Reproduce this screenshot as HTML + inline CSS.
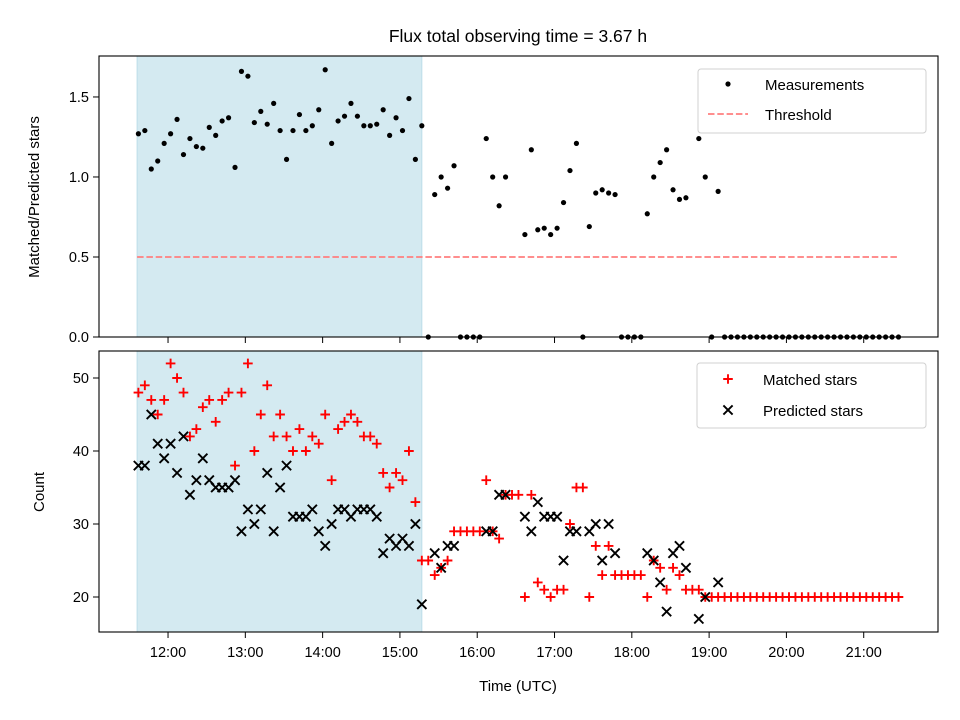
<!DOCTYPE html>
<html><head><meta charset="utf-8"><style>
html,body{margin:0;padding:0;background:#fff}
svg{display:block;font-family:"Liberation Sans","DejaVu Sans",sans-serif}
</style></head><body>
<svg id="chart" width="960" height="720" viewBox="0 0 960 720"></svg>
<script>
const times=["11:37","11:42","11:47","11:52","11:57",
"12:02","12:07","12:12","12:17","12:22","12:27","12:32","12:37","12:42","12:47","12:52","12:57",
"13:02","13:07","13:12","13:17","13:22","13:27","13:32","13:37","13:42","13:47","13:52","13:57",
"14:02","14:07","14:12","14:17","14:22","14:27","14:32","14:37","14:42","14:47","14:52","14:57",
"15:02","15:07","15:12","15:17","15:22","15:27","15:32","15:37","15:42","15:47","15:52","15:57",
"16:02","16:07","16:12","16:17","16:22","16:27","16:32","16:37","16:42","16:47","16:52","16:57",
"17:02","17:07","17:12","17:17","17:22","17:27","17:32","17:37","17:42","17:47","17:52","17:57",
"18:02","18:07","18:12","18:17","18:22","18:27","18:32","18:37","18:42","18:47","18:52","18:57",
"19:02","19:07","19:12","19:17","19:22","19:27","19:32","19:37","19:42","19:47","19:52","19:57",
"20:02","20:07","20:12","20:17","20:22","20:27","20:32","20:37","20:42","20:47","20:52","20:57",
"21:02","21:07","21:12","21:17","21:22","21:27"];
const ratio=[1.27,1.29,1.05,1.10,1.21,1.27,1.36,1.14,1.24,1.19,1.18,1.31,1.26,1.35,1.37,1.06,1.66,1.63,1.34,1.41,1.33,1.46,1.29,1.11,1.29,1.39,1.29,1.32,1.42,1.67,1.21,1.35,1.38,1.46,1.38,1.32,1.32,1.33,1.42,1.26,1.37,1.29,1.49,1.11,1.32,
0,0.89,1.0,0.93,1.07,0,0,0,0,1.24,1.0,0.82,1.0,null,null,0.64,1.17,0.67,0.68,0.64,0.68,0.84,1.04,1.21,0,0.69,0.90,0.92,0.90,0.89,0,0,0,0,0.77,1.0,1.09,1.17,0.92,0.86,0.87,null,1.24,1.0,0,0.91,
0,0,0,0,0,0,0,0,0,0,0,0,0,0,0,0,0,0,0,0,0,0,0,0,0,0,0,0];
const matched=[48,49,47,45,47,52,50,48,42,43,46,47,44,47,48,38,48,52,40,45,49,42,45,42,40,43,40,42,41,45,36,43,44,45,44,42,42,41,37,35,37,36,40,33,25,
25,23,24,25,29,29,29,29,29,36,29,28,34,34,34,20,34,22,21,20,21,21,30,35,35,20,27,23,27,23,23,23,23,23,20,25,24,21,24,23,21,21,21,20,20,20,
20,20,20,20,20,20,20,20,20,20,20,20,20,20,20,20,20,20,20,20,20,20,20,20,20,20,20,20];
const predicted=[38,38,45,41,39,41,37,42,34,36,39,36,35,35,35,36,29,32,30,32,37,29,35,38,31,31,31,32,29,27,30,32,32,31,32,32,32,31,26,28,27,28,27,30,19,
null,26,24,27,27,null,null,null,null,29,29,34,34,null,null,31,29,33,31,31,31,25,29,29,null,29,30,25,30,26,null,null,null,null,26,25,22,18,26,27,24,null,17,20,null,22,
null,null,null,null,null,null,null,null,null,null,null,null,null,null,null,null,null,null,null,null,null,null,null,null,null,null,null,null];
const xTickLabels=["12:00","13:00","14:00","15:00","16:00","17:00","18:00","19:00","20:00","21:00"];
const topYTicks=[0.0,0.5,1.0,1.5];
const botYTicks=[20,30,40,50];
const threshold=0.5;
const shadeStart="11:36", shadeEnd="15:17";
const lineStart="11:36", lineEnd="21:26";

const NS="http://www.w3.org/2000/svg";
const svg=document.getElementById('chart');
function mk(tag,attrs,parent){const e=document.createElementNS(NS,tag);for(const k in attrs)e.setAttribute(k,attrs[k]);(parent||svg).appendChild(e);return e;}
function hrs(s){const p=s.split(':');return +p[0]+(+p[1])/60;}
const L=99,R=938;
const xMin=11.107,xMax=21.961;
function xS(h){return L+(h-xMin)/(xMax-xMin)*(R-L);}
const T={top:56,bot:337,min:0,max:1.756};
const B={top:351,bot:632,min:15.205,max:53.70};
function yT(v){return T.bot-(v-T.min)/(T.max-T.min)*(T.bot-T.top);}
function yB(v){return B.bot-(v-B.min)/(B.max-B.min)*(B.bot-B.top);}

// title
let t=mk('text',{x:518,y:42,'text-anchor':'middle','font-size':'17.5'});t.textContent="Flux total observing time = 3.67 h";



// shading
[[T.top,T.bot,'top'],[B.top,B.bot,'bottom']].forEach(([a,b,n])=>{
 const r=mk('rect',{x:xS(hrs(shadeStart)),y:a,width:xS(hrs(shadeEnd))-xS(hrs(shadeStart)),height:b-a,fill:'#d4eaf1',stroke:'#bcdde8','stroke-width':1});
 
 
});

// threshold
const th=mk('line',{x1:xS(hrs(lineStart)),x2:xS(hrs(lineEnd)),y1:yT(threshold),y2:yT(threshold),stroke:'#ff7f7f','stroke-width':1.8,'stroke-dasharray':'6.5,2.8'});



// measurements
const gM=mk('g',{});


ratio.forEach((v,i)=>{if(v===null)return;
 const c=mk('circle',{cx:xS(hrs(times[i])),cy:yT(v),r:2.6,fill:'#000'},gM);
 
 
});

// matched +
const gP=mk('g',{});


matched.forEach((v,i)=>{if(v===null)return;const x=xS(hrs(times[i])),y=yB(v);
 const p=mk('path',{d:`M${x-4.8},${y}H${x+4.8}M${x},${y-4.8}V${y+4.8}`,stroke:'#f00','stroke-width':1.9},gP);
 
 
});
// predicted x
const gX=mk('g',{});


predicted.forEach((v,i)=>{if(v===null)return;const x=xS(hrs(times[i])),y=yB(v),d=4.6;
 const p=mk('path',{d:`M${x-d},${y-d}L${x+d},${y+d}M${x-d},${y+d}L${x+d},${y-d}`,stroke:'#000','stroke-width':1.9},gX);
 
 
});

// frames
[[T,'top'],[B,'bottom']].forEach(([a,n])=>{
 const r=mk('rect',{x:L,y:a.top,width:R-L,height:a.bot-a.top,fill:'none',stroke:'#000','stroke-width':1.1});
 
 
});

// x ticks
xTickLabels.forEach(s=>{const x=xS(hrs(s));
 mk('line',{x1:x,x2:x,y1:T.bot,y2:T.bot+6,stroke:'#000','stroke-width':1});
 mk('line',{x1:x,x2:x,y1:B.bot,y2:B.bot+6,stroke:'#000','stroke-width':1});
 const tx=mk('text',{x:x,y:B.bot+25,'text-anchor':'middle','font-size':'14.5'});tx.textContent=s;
 
 
});
topYTicks.forEach(v=>{const y=yT(v);
 mk('line',{x1:L-6,x2:L,y1:y,y2:y,stroke:'#000','stroke-width':1});
 const tx=mk('text',{x:L-10,y:y+5,'text-anchor':'end','font-size':'14.5'});tx.textContent=v.toFixed(1);
 
 
});
botYTicks.forEach(v=>{const y=yB(v);
 mk('line',{x1:L-6,x2:L,y1:y,y2:y,stroke:'#000','stroke-width':1});
 const tx=mk('text',{x:L-10,y:y+5,'text-anchor':'end','font-size':'14.5'});tx.textContent=v;
 
 
});
let yl=mk('text',{x:0,y:0,transform:'translate(39,197) rotate(-90)','text-anchor':'middle','font-size':'15'});yl.textContent="Matched/Predicted stars";


yl=mk('text',{x:0,y:0,transform:'translate(44,492) rotate(-90)','text-anchor':'middle','font-size':'15'});yl.textContent="Count";


let xl=mk('text',{x:518,y:691,'text-anchor':'middle','font-size':'15'});xl.textContent="Time (UTC)";



// legends
function legend(x,y,w,h,name){const g=mk('g',{});
 mk('rect',{x:x,y:y,width:w,height:h,rx:3,fill:'#fff','fill-opacity':0.85,stroke:'#d0d0d0','stroke-width':1},g);return g;}
let g1=legend(698,69,228,64,'top-legend');
mk('circle',{cx:728,cy:84,r:2.6,fill:'#000'},g1);
let lt=mk('text',{x:765,y:90,'font-size':'15'},g1);lt.textContent="Measurements";


mk('line',{x1:708,x2:748,y1:114,y2:114,stroke:'#ff7f7f','stroke-width':1.8,'stroke-dasharray':'6.5,2.8'},g1);
lt=mk('text',{x:765,y:120,'font-size':'15'},g1);lt.textContent="Threshold";


let g2=legend(697,363,229,65,'bottom-legend');
mk('path',{d:'M723.2,379H732.8M728,374.2V383.8',stroke:'#f00','stroke-width':1.9},g2);
lt=mk('text',{x:763,y:385,'font-size':'15'},g2);lt.textContent="Matched stars";


mk('path',{d:'M723.4,405.4L732.6,414.6M723.4,414.6L732.6,405.4',stroke:'#000','stroke-width':1.9},g2);
lt=mk('text',{x:763,y:416,'font-size':'15'},g2);lt.textContent="Predicted stars";


</script>
</body></html>
